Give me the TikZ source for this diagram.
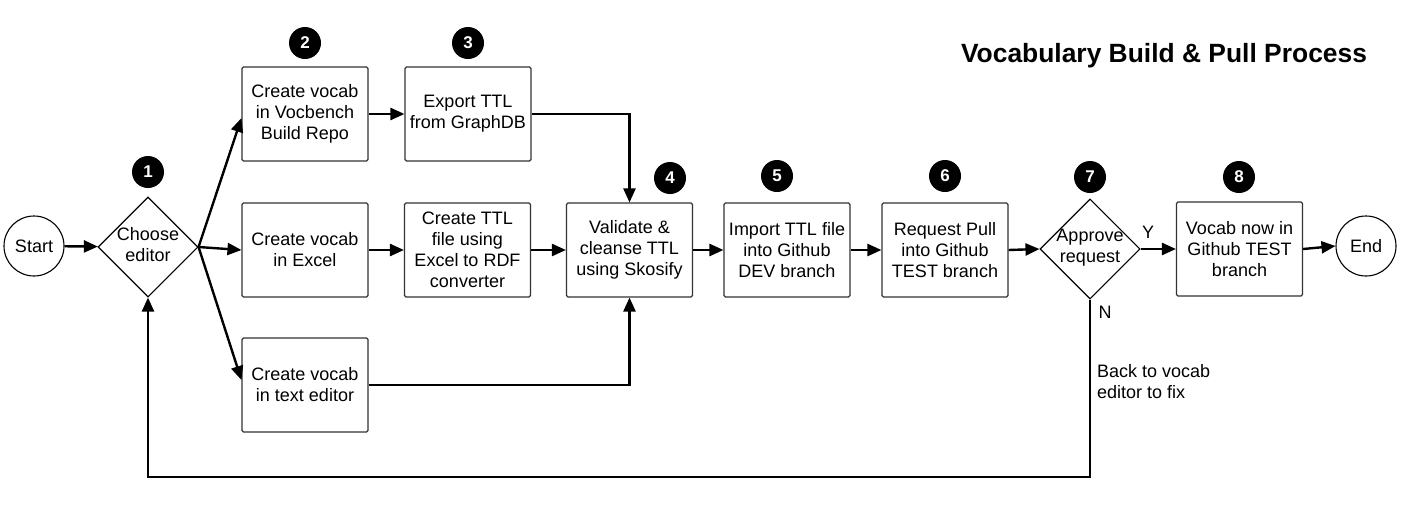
\documentclass[tikz,border=0pt]{standalone}
\usepackage{fontspec}
\setmainfont{Liberation Sans}
\usetikzlibrary{shapes.geometric,arrows.meta}
\begin{document}
\begin{tikzpicture}[x=1pt,y=-1pt,
  box/.style={draw=black!80,line width=1.1pt,rounded corners=1.5pt,minimum width=126pt,minimum height=94pt,inner sep=0pt,align=center,font=\fontsize{18}{21}\selectfont},
  term/.style={circle,draw,line width=1.1pt,minimum size=60pt,inner sep=0pt,font=\fontsize{18}{21}\selectfont},
  dec/.style={diamond,draw,line width=1.1pt,minimum width=100pt,minimum height=100pt,inner sep=0pt},
  dectext/.style={align=center,font=\fontsize{18}{21}\selectfont},
  badge/.style={circle,fill=black,minimum size=32pt,inner sep=0pt,text=white,font=\bfseries\fontsize{17}{17}\selectfont},
  conn/.style={line width=2.4pt,-{Triangle[length=14pt,width=12pt]}},
  lbl/.style={font=\fontsize{18}{21}\selectfont,inner sep=0pt}]
\useasboundingbox (0,0) rectangle (1402,509);

\node[font=\bfseries\fontsize{26.4}{30}\selectfont] (title) at (1164,55.5) {Vocabulary Build \& Pull Process};

\node[term] (start) at (34,246) {Start};
\node[dec] (d1) at (148,247) {};
\node[dectext] (d1t) at (148,245) {Choose\\editor};

\node[box] (b2) at (305,114) {Create vocab\\in Vocbench\\Build Repo};
\node[box] (b3) at (468,114) {Export TTL\\from GraphDB};
\node[box] (bx) at (305,250) {Create vocab\\in Excel};
\node[box] (bc) at (467.5,250) {Create TTL\\file using\\Excel to RDF\\converter};
\node[box] (bt) at (305,385) {Create vocab\\in text editor};
\node[box] (b4) at (629.5,250) {Validate \&\\cleanse TTL\\using Skosify};
\node[box] (b5) at (787,250) {Import TTL file\\into Github\\DEV branch};
\node[box] (b6) at (945,250) {Request Pull\\into Github\\TEST branch};
\node[dec] (d7) at (1090,249) {};
\node[dectext] (d7t) at (1090,247.5) {Approve\\request};
\node[box] (b8) at (1239.5,249) {Vocab now in\\Github TEST\\branch};
\node[term] (end) at (1366,246) {End};

\node[badge] (n1) at (148,172) {1};
\node[badge] (n2) at (305,43) {2};
\node[badge] (n3) at (468,43) {3};
\node[badge] (n4) at (670,178) {4};
\node[badge] (n5) at (777,176) {5};
\node[badge] (n6) at (945,176) {6};
\node[badge] (n7) at (1090,177) {7};
\node[badge] (n8) at (1239,177) {8};

\node[lbl] (ly) at (1148,232) {Y};
\node[lbl] (ln) at (1105,312) {N};
\node[lbl,anchor=west,align=left] (lback) at (1097,382) {Back to vocab\\editor to fix};

\coordinate (lp) at (148,477);

\draw[conn] (start) -- (d1);
\draw[conn] (d1.east) -- ([yshift=-4pt]b2.west);
\draw[conn] (d1.east) -- (bx.west);
\draw[conn] (d1.east) -- ([yshift=5pt]bt.west);
\draw[conn] (b2) -- (b3);
\draw[conn] (b3.east) -| (b4.north);
\draw[conn] (bx) -- (bc);
\draw[conn] (bc) -- (b4);
\draw[conn] (bt.east) -| (b4.south);
\draw[conn] (b4) -- (b5);
\draw[conn] (b5) -- (b6);
\draw[conn] (b6.east) -- (d7.west);
\draw[conn] (d7.east) -- (b8.west);
\draw[conn] (b8.east) -- (end.west);
\draw[conn] (d7.south) |- (lp) -- (d1.south);
\end{tikzpicture}
\end{document}
